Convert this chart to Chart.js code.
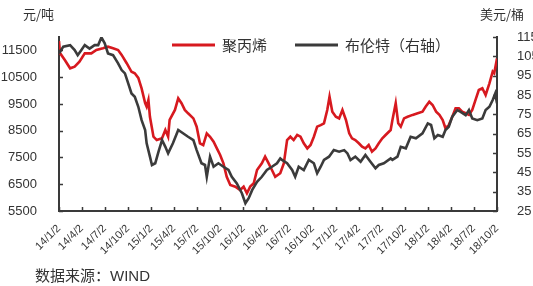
<!DOCTYPE html>
<html>
<head>
<meta charset="utf-8">
<script src="https://cdn.jsdelivr.net/npm/chart.js@4.4.1/dist/chart.umd.min.js"></script>
<style>
  body { margin: 0; background: #fff; }
</style>
</head>
<body>
<canvas id="chart" width="533" height="286"></canvas>
<script>
// Quarterly tick labels on the date axis (yy/m/d)
const tickLabels = ['14/1/2', '14/4/2', '14/7/2', '14/10/2', '15/1/2', '15/4/2', '15/7/2', '15/10/2',
  '16/1/2', '16/4/2', '16/7/2', '16/10/2', '17/1/2', '17/4/2', '17/7/2', '17/10/2',
  '18/1/2', '18/4/2', '18/7/2', '18/10/2'];
const leftTicks = [5500, 6500, 7500, 8500, 9500, 10500, 11500];
const rightTicks = [25, 35, 45, 55, 65, 75, 85, 95, 105, 115];

// 聚丙烯 (元/吨)
const ppDates = ['2014-01-02', '2014-01-06', '2014-01-25', '2014-02-15', '2014-03-05', '2014-03-24', '2014-04-14',
  '2014-05-10', '2014-05-30', '2014-06-25', '2014-07-15', '2014-08-04', '2014-08-24', '2014-09-07', '2014-09-27',
  '2014-10-16', '2014-10-29', '2014-11-12', '2014-11-25', '2014-12-09', '2014-12-15', '2014-12-22', '2014-12-28',
  '2015-01-11', '2015-01-24', '2015-02-14', '2015-02-27', '2015-03-10', '2015-03-16', '2015-04-06', '2015-04-19',
  '2015-05-02', '2015-05-15', '2015-05-28', '2015-06-18', '2015-07-01', '2015-07-14', '2015-07-27', '2015-08-10',
  '2015-08-23', '2015-09-06', '2015-09-19', '2015-10-02', '2015-10-15', '2015-10-28', '2015-11-11', '2015-12-01',
  '2015-12-20', '2016-01-03', '2016-01-16', '2016-01-29', '2016-02-12', '2016-02-25', '2016-03-15', '2016-03-28',
  '2016-04-11', '2016-04-24', '2016-05-07', '2016-05-27', '2016-06-10', '2016-06-23', '2016-07-06', '2016-07-19',
  '2016-08-02', '2016-08-15', '2016-08-28', '2016-09-11', '2016-09-24', '2016-10-07', '2016-10-20', '2016-11-03',
  '2016-11-16', '2016-11-29', '2016-12-08', '2016-12-19', '2017-01-02', '2017-01-15', '2017-01-28', '2017-02-11',
  '2017-02-24', '2017-03-07', '2017-03-20', '2017-04-03', '2017-04-16', '2017-04-29', '2017-05-12', '2017-05-25',
  '2017-06-08', '2017-06-21', '2017-07-05', '2017-07-18', '2017-08-07', '2017-08-14', '2017-08-27', '2017-09-06',
  '2017-09-16', '2017-09-29', '2017-10-13', '2017-11-02', '2017-11-22', '2017-12-11', '2017-12-24', '2018-01-07',
  '2018-01-20', '2018-02-03', '2018-02-16', '2018-03-01', '2018-03-12', '2018-03-25', '2018-04-08', '2018-04-21',
  '2018-05-04', '2018-05-17', '2018-05-31', '2018-06-13', '2018-06-26', '2018-07-09', '2018-07-22', '2018-08-05',
  '2018-08-18', '2018-09-02', '2018-09-15', '2018-09-21', '2018-10-02'];
const ppValues = [11850, 11400, 11140, 10830, 10890, 11080, 11390,
  11390, 11515, 11580, 11640, 11580, 11515, 11330, 11020,
  10700, 10645, 10470, 10080, 9535, 9400, 9650, 9020,
  8275, 8150, 8215, 8525, 8275, 8900, 9275, 9710,
  9525, 9275, 9150, 8960, 8650, 8030, 7965, 8400,
  8275, 8090, 7840, 7590, 7280, 6780, 6470, 6410,
  6285, 6410, 6160, 6410, 6535, 7030, 7280, 7530,
  7280, 7030, 6780, 6910, 7280, 8150, 8275, 8150,
  8340, 8275, 8030, 7840, 7965, 8275, 8650, 8710,
  8775, 9275, 9770, 9210, 9020, 8960, 9275, 8900,
  8400, 8215, 8150, 8030, 7900, 7840, 7965, 7715,
  7840, 8030, 8215, 8340, 8525, 8900, 9525, 8775,
  8650, 8960, 9020, 9090, 9150, 9210, 9400, 9580,
  9460, 9210, 9090, 8900, 8590, 8710, 9020, 9340,
  9340, 9210, 9150, 9090, 9275, 9650, 10020, 10085,
  9835, 10270, 10705, 10645, 11200];

// 布伦特 (美元/桶, right axis)
const brentDates = ['2014-01-02', '2014-01-19', '2014-02-15', '2014-03-05', '2014-03-17', '2014-03-31', '2014-04-14',
  '2014-05-03', '2014-05-23', '2014-06-06', '2014-06-19', '2014-07-02', '2014-07-15', '2014-08-04', '2014-08-24',
  '2014-09-07', '2014-09-20', '2014-10-03', '2014-10-16', '2014-10-29', '2014-11-12', '2014-11-25', '2014-12-09',
  '2014-12-15', '2014-12-28', '2015-01-05', '2015-01-18', '2015-01-31', '2015-02-14', '2015-02-27', '2015-03-10',
  '2015-03-29', '2015-04-19', '2015-05-08', '2015-05-28', '2015-06-18', '2015-07-01', '2015-07-20', '2015-08-03',
  '2015-08-10', '2015-08-23', '2015-09-06', '2015-09-25', '2015-10-15', '2015-11-04', '2015-11-17', '2015-12-07',
  '2015-12-27', '2016-01-10', '2016-01-23', '2016-02-06', '2016-02-25', '2016-03-15', '2016-04-04', '2016-04-24',
  '2016-05-14', '2016-05-27', '2016-06-03', '2016-06-23', '2016-07-13', '2016-07-25', '2016-08-08', '2016-08-28',
  '2016-09-17', '2016-10-07', '2016-10-20', '2016-11-03', '2016-11-16', '2016-12-06', '2016-12-25', '2017-01-15',
  '2017-02-04', '2017-02-17', '2017-03-01', '2017-03-20', '2017-04-10', '2017-04-29', '2017-05-19', '2017-06-08',
  '2017-06-21', '2017-07-11', '2017-08-07', '2017-08-14', '2017-09-03', '2017-09-16', '2017-10-06', '2017-10-25',
  '2017-11-15', '2017-12-11', '2018-01-01', '2018-01-14', '2018-01-27', '2018-02-10', '2018-03-01', '2018-03-12',
  '2018-03-25', '2018-04-08', '2018-04-28', '2018-05-11', '2018-05-31', '2018-06-13', '2018-06-26', '2018-07-16',
  '2018-08-05', '2018-08-18', '2018-09-02', '2018-09-15', '2018-09-25', '2018-10-02'];
const brentValues = [106.5, 110, 110.8, 108.2, 105.6, 108.2, 110.8,
  109, 110.8, 110.8, 114.8, 111.7, 106.5, 105.6, 101.4,
  97.9, 96.2, 91, 85.8, 84.1, 78.9, 72, 66.9,
  60, 53.1, 48.8, 49.7, 55.7, 61.7, 58.2, 54.8,
  60, 66.9, 65.2, 63.4, 61.7, 56.5, 49.7, 48.8,
  42.7, 53.1, 47.9, 49.7, 47.9, 46.2, 42.7, 39.3,
  34.2, 29, 31.6, 35.9, 40.1, 42.7, 46.2, 47.9,
  49.7, 52.2, 51.4, 49.7, 46.2, 42.7, 47.9, 46.2,
  51.4, 49.7, 44.5, 47.9, 51.4, 53.1, 56.5, 55.7,
  56.5, 54.8, 51.4, 53.1, 50.5, 54, 50.5, 47.1,
  48.8, 49.7, 52.2, 51.4, 53.1, 58.2, 57.4, 63.4,
  62.6, 65.2, 70.3, 69.5, 62.6, 64.3, 63.4, 66.9,
  68.6, 73.8, 77.2, 76.3, 74.6, 77.2, 72.9, 72,
  72.9, 77.2, 78.9, 82.4, 85.8, 80.7];

const toTime = s => Date.parse(s);
const labelToTime = l => {
  const [yy, m, d] = l.split('/').map(Number);
  return Date.UTC(2000 + yy, m - 1, d);
};
const tickTimes = tickLabels.map(labelToTime);

const RED = '#d7191f';
const DARK = '#3b3b3b';
const TEXT = '#333333';
const AXIS = '#3a3a3a';

Chart.defaults.font.family = "'Liberation Sans', Arial, 'Noto Sans CJK SC', sans-serif";
Chart.defaults.color = TEXT;

// Inward tick marks, unit captions, legend and source line
const decor = {
  id: 'decor',
  afterDraw(chart) {
    const ctx = chart.ctx;
    const area = chart.chartArea;
    const { x, y, y1 } = chart.scales;
    ctx.save();
    ctx.strokeStyle = AXIS;
    ctx.lineWidth = 1.5;
    ctx.beginPath();
    x.ticks.forEach(t => {
      const px = Math.round(x.getPixelForValue(t.value)) + 0.5;
      ctx.moveTo(px, area.bottom);
      ctx.lineTo(px, area.bottom - 4);
    });
    y.ticks.forEach(t => {
      const py = Math.round(y.getPixelForValue(t.value)) + 0.5;
      ctx.moveTo(area.left, py);
      ctx.lineTo(area.left + 4, py);
    });
    y1.ticks.forEach(t => {
      const py = Math.round(y1.getPixelForValue(t.value)) + 0.5;
      ctx.moveTo(area.right, py);
      ctx.lineTo(area.right - 4, py);
    });
    ctx.stroke();

    ctx.fillStyle = TEXT;
    ctx.textBaseline = 'middle';
    ctx.font = "13px 'Noto Sans CJK SC', sans-serif";
    ctx.textAlign = 'left';
    ctx.fillText('元/吨', 23, 14);
    ctx.fillText('美元/桶', 480, 14);

    // legend
    ctx.font = "15px 'Noto Sans CJK SC', sans-serif";
    const items = [
      { ds: chart.data.datasets[0], x0: 172 },
      { ds: chart.data.datasets[1], x0: 295 }
    ];
    items.forEach(it => {
      ctx.strokeStyle = it.ds.borderColor;
      ctx.lineWidth = 3;
      ctx.beginPath();
      ctx.moveTo(it.x0, 45);
      ctx.lineTo(it.x0 + 43, 45);
      ctx.stroke();
      ctx.fillText(it.ds.label, it.x0 + 50, 45);
    });

    ctx.font = "15px 'Liberation Sans', 'Noto Sans CJK SC', sans-serif";
    ctx.fillText('数据来源：WIND', 35, 277);
    ctx.restore();
  }
};

new Chart(document.getElementById('chart').getContext('2d'), {
  type: 'line',
  data: {
    datasets: [{
      label: '聚丙烯',
      data: ppDates.map((d, i) => ({ x: toTime(d), y: ppValues[i] })),
      borderColor: RED,
      borderWidth: 2.6,
      pointRadius: 0,
      tension: 0,
      yAxisID: 'y',
      order: 1
    }, {
      label: '布伦特（右轴）',
      data: brentDates.map((d, i) => ({ x: toTime(d), y: brentValues[i] })),
      borderColor: DARK,
      borderWidth: 2.6,
      pointRadius: 0,
      tension: 0,
      yAxisID: 'y1',
      order: 0
    }]
  },
  options: {
    responsive: false,
    animation: false,
    layout: { padding: { top: 37, left: 0, right: 0, bottom: 0 } },
    plugins: {
      legend: { display: false },
      tooltip: { enabled: false }
    },
    scales: {
      x: {
        type: 'linear',
        min: tickTimes[0],
        max: tickTimes[tickTimes.length - 1],
        afterBuildTicks: s => { s.ticks = tickTimes.map(v => ({ value: v })); },
        afterFit: s => { s.height = 75; },
        ticks: {
          autoSkip: false,
          minRotation: 45,
          maxRotation: 45,
          padding: 3,
          font: { size: 11 },
          callback: (v, i) => tickLabels[i]
        },
        grid: { display: false },
        border: { display: true, color: AXIS, width: 2 }
      },
      y: {
        position: 'left',
        min: 5500,
        max: 12000,
        afterBuildTicks: s => { s.ticks = leftTicks.map(v => ({ value: v })); },
        afterFit: s => { s.width = 59; },
        ticks: { padding: 14, font: { size: 13 }, callback: v => String(v) },
        grid: { display: false },
        border: { display: true, color: AXIS, width: 2 }
      },
      y1: {
        position: 'right',
        min: 25,
        max: 115,
        afterBuildTicks: s => { s.ticks = rightTicks.map(v => ({ value: v })); },
        afterFit: s => { s.width = 36; },
        ticks: { padding: 12, font: { size: 13 }, callback: v => String(v) },
        grid: { display: false },
        border: { display: true, color: AXIS, width: 2 }
      }
    }
  },
  plugins: [decor]
});
</script>
</body>
</html>
